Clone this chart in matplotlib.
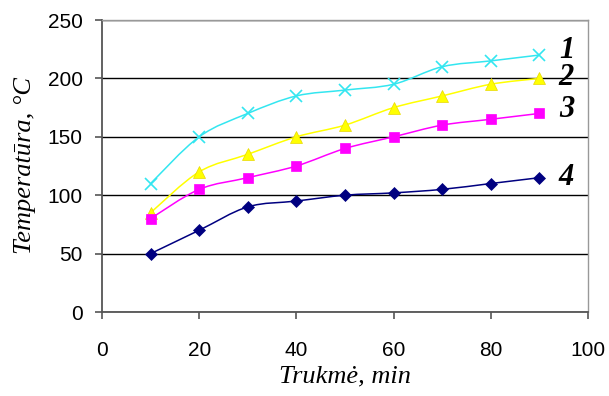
import matplotlib
matplotlib.use("Agg")
import matplotlib.pyplot as plt
from matplotlib.path import Path
from matplotlib.patches import PathPatch
import numpy as np

time_min = [10, 20, 30, 40, 50, 60, 70, 80, 90]
series1 = [110, 150, 170, 185, 190, 195, 210, 215, 220]
series2 = [85, 120, 135, 150, 160, 175, 185, 195, 200]
series3 = [80, 105, 115, 125, 140, 150, 160, 165, 170]
series4 = [50, 70, 90, 95, 100, 102, 105, 110, 115]
curve_labels = ["1", "2", "3", "4"]
x_ticks = [0, 20, 40, 60, 80, 100]
y_ticks = [0, 50, 100, 150, 200, 250]

styles = [
    dict(color="#33e6f0", marker="x", ms=8, mew=1.2),
    dict(color="#ffff00", marker="^", ms=9, mew=0.5, mec="#e8d800"),
    dict(color="#ff00ff", marker="s", ms=7, mew=0.5),
    dict(color="#000080", marker="D", ms=6.5, mew=0.5),
]

fig = plt.figure(figsize=(6.09, 3.96), dpi=100)
ax = fig.add_axes([102/609, 1-312/396, (588-102)/609, (312-20)/396])


def smooth_path(xs, ys):
    pts = np.column_stack([xs, ys]).astype(float)
    n = len(pts)
    verts = [pts[0]]
    codes = [Path.MOVETO]
    for i in range(n - 1):
        p0 = pts[i - 1] if i > 0 else pts[i]
        p1 = pts[i]
        p2 = pts[i + 1]
        p3 = pts[i + 2] if i + 2 < n else pts[i + 1]
        c1 = p1 + (p2 - p0) / 6.0
        c2 = p2 - (p3 - p1) / 6.0
        verts += [c1, c2, p2]
        codes += [Path.CURVE4] * 3
    return Path(verts, codes)


for ys, st in zip([series1, series2, series3, series4], styles):
    patch = PathPatch(smooth_path(time_min, ys), facecolor="none",
                      edgecolor=st["color"], lw=1.1, zorder=3)
    ax.add_patch(patch)
    ax.plot(time_min, ys, linestyle="none", marker=st["marker"],
            markersize=st["ms"], color=st["color"],
            markeredgecolor=st.get("mec", st["color"]),
            markeredgewidth=st["mew"], zorder=4)

ax.set_xlim(0, 100)
ax.set_ylim(0, 250)
ax.set_xticks(x_ticks)
ax.set_yticks(y_ticks)
ax.grid(axis="y", color="black", lw=1.0, zorder=1)
ax.set_axisbelow(True)

for s in ["top", "right"]:
    ax.spines[s].set_color("#999999")
    ax.spines[s].set_linewidth(1.0)
for s in ["left", "bottom"]:
    ax.spines[s].set_color("#555555")
    ax.spines[s].set_linewidth(1.3)

ax.tick_params(axis="both", direction="out", length=5, width=1.2,
               color="#555555", labelsize=15)
ax.tick_params(axis="x", pad=16)
ax.tick_params(axis="y", pad=9)
for lab in ax.get_xticklabels() + ax.get_yticklabels():
    lab.set_fontfamily("Liberation Sans")

ax.set_xlabel("Trukmė, min", fontfamily="Liberation Serif", fontstyle="italic",
              fontsize=19, labelpad=4)
ax.set_ylabel("Temperatūra, °C", fontfamily="Liberation Serif",
              fontstyle="italic", fontsize=19, labelpad=8)

label_y = [224, 201, 173, 115]
for t, yv in zip(curve_labels, label_y):
    ax.text(94.0, yv, t, fontfamily="Liberation Serif", fontstyle="italic",
            fontweight="bold", fontsize=22, ha="left", va="center")

fig.savefig("out.png", dpi=100)
